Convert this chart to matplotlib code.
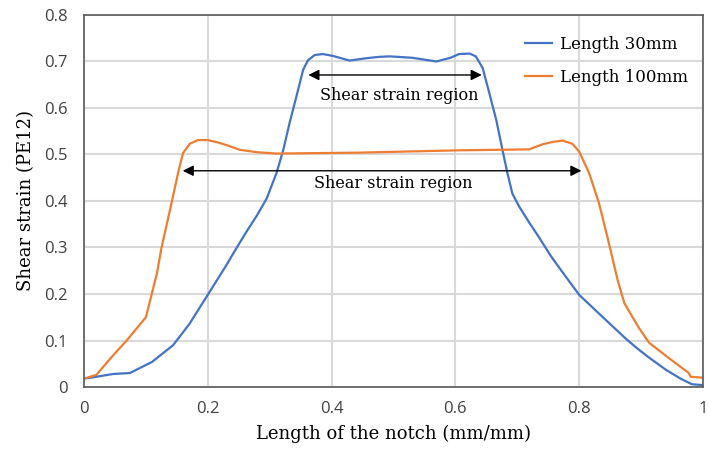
import matplotlib.pyplot as plt
import numpy as np

# Length 30mm
x30 = [0, 0.02, 0.047, 0.074, 0.11, 0.144, 0.17, 0.198, 0.23, 0.246, 0.263, 0.279, 0.295,
       0.311, 0.322, 0.332, 0.343, 0.354, 0.362, 0.373, 0.386, 0.402, 0.429, 0.456, 0.477,
       0.494, 0.53, 0.569, 0.592, 0.606, 0.623, 0.633, 0.644, 0.655, 0.666, 0.676, 0.684,
       0.692, 0.703, 0.72, 0.735, 0.754, 0.768, 0.80, 0.843, 0.876, 0.891, 0.91, 0.94, 0.965,
       0.982, 1.0]
y30 = [0.018, 0.022, 0.028, 0.03, 0.054, 0.09, 0.135, 0.194, 0.262, 0.298, 0.335, 0.368, 0.405,
       0.46, 0.51, 0.567, 0.624, 0.682, 0.703, 0.714, 0.716, 0.712, 0.702, 0.707, 0.710,
       0.711, 0.708, 0.70, 0.708, 0.716, 0.717, 0.711, 0.686, 0.631, 0.574, 0.51, 0.46,
       0.416, 0.388, 0.352, 0.322, 0.282, 0.256, 0.198, 0.144, 0.103, 0.086, 0.066, 0.037, 0.017,
       0.006, 0.004]

# Length 100mm
x100 = [0, 0.02, 0.045, 0.069, 0.10, 0.118, 0.125, 0.139, 0.152, 0.160, 0.171, 0.184, 0.2,
        0.219, 0.235, 0.252, 0.279, 0.311, 0.445, 0.606, 0.719, 0.741, 0.757, 0.773, 0.789,
        0.80, 0.816, 0.832, 0.848, 0.862, 0.873, 0.884, 0.897, 0.913, 0.945, 0.977, 0.98, 1.0]
y100 = [0.018, 0.026, 0.065, 0.10, 0.15, 0.245, 0.298, 0.381, 0.46, 0.503, 0.523, 0.531, 0.531,
        0.525, 0.518, 0.51, 0.505, 0.502, 0.504, 0.509, 0.511, 0.522, 0.527, 0.530, 0.523,
        0.506, 0.46, 0.395, 0.309, 0.23, 0.18, 0.155, 0.126, 0.095, 0.062, 0.03, 0.022, 0.02]

labels = ['Length 30mm', 'Length 100mm']
region_text = 'Shear strain region'

plt.rcParams['font.family'] = ['Open Sans', 'DejaVu Sans']
fig = plt.figure(figsize=(7.08, 4.61), dpi=100)
ax = fig.add_axes([0.1186, 0.1605, 0.8744, 0.807])

ax.plot(x30, y30, color='#4472C4', lw=1.6, label=labels[0])
ax.plot(x100, y100, color='#ED7D31', lw=1.6, label=labels[1])

# arrows showing the shear strain regions
ax.annotate('', xy=(0.358, 0.671), xytext=(0.647, 0.671),
            arrowprops=dict(arrowstyle='<|-|>', color='black', lw=1, mutation_scale=16))
ax.text(0.51, 0.626, region_text, ha='center', va='center', family='DejaVu Serif', fontsize=11.5)
ax.annotate('', xy=(0.155, 0.465), xytext=(0.808, 0.465),
            arrowprops=dict(arrowstyle='<|-|>', color='black', lw=1, mutation_scale=16))
ax.text(0.50, 0.437, region_text, ha='center', va='center', family='DejaVu Serif', fontsize=11.5)

ax.set_xlim(0, 1)
ax.set_ylim(0, 0.8)
ax.set_xticks(np.arange(0, 1.01, 0.2))
ax.set_xticklabels(['0', '0.2', '0.4', '0.6', '0.8', '1'])
ax.set_yticks(np.arange(0, 0.81, 0.1))
ax.set_yticklabels(['0', '0.1', '0.2', '0.3', '0.4', '0.5', '0.6', '0.7', '0.8'])
ax.tick_params(length=0, labelsize=12, colors='#404040', pad=10)
ax.tick_params(axis='y', pad=12)
ax.grid(True, color='#D9D9D9', lw=1.5)
ax.set_axisbelow(True)
for s in ax.spines.values():
    s.set_color('#595959')
    s.set_linewidth(1.2)

ax.set_xlabel('Length of the notch (mm/mm)', family='DejaVu Serif', fontsize=13, labelpad=6)
ax.set_ylabel('Shear strain (PE12)', family='DejaVu Serif', fontsize=13, labelpad=6)

leg = ax.legend(loc='upper right', frameon=False, prop={'family': 'DejaVu Serif', 'size': 12},
                handlelength=1.6, handletextpad=0.5, labelspacing=1.0,
                bbox_to_anchor=(1.0, 0.985))

fig.savefig('out.png', dpi=100)
